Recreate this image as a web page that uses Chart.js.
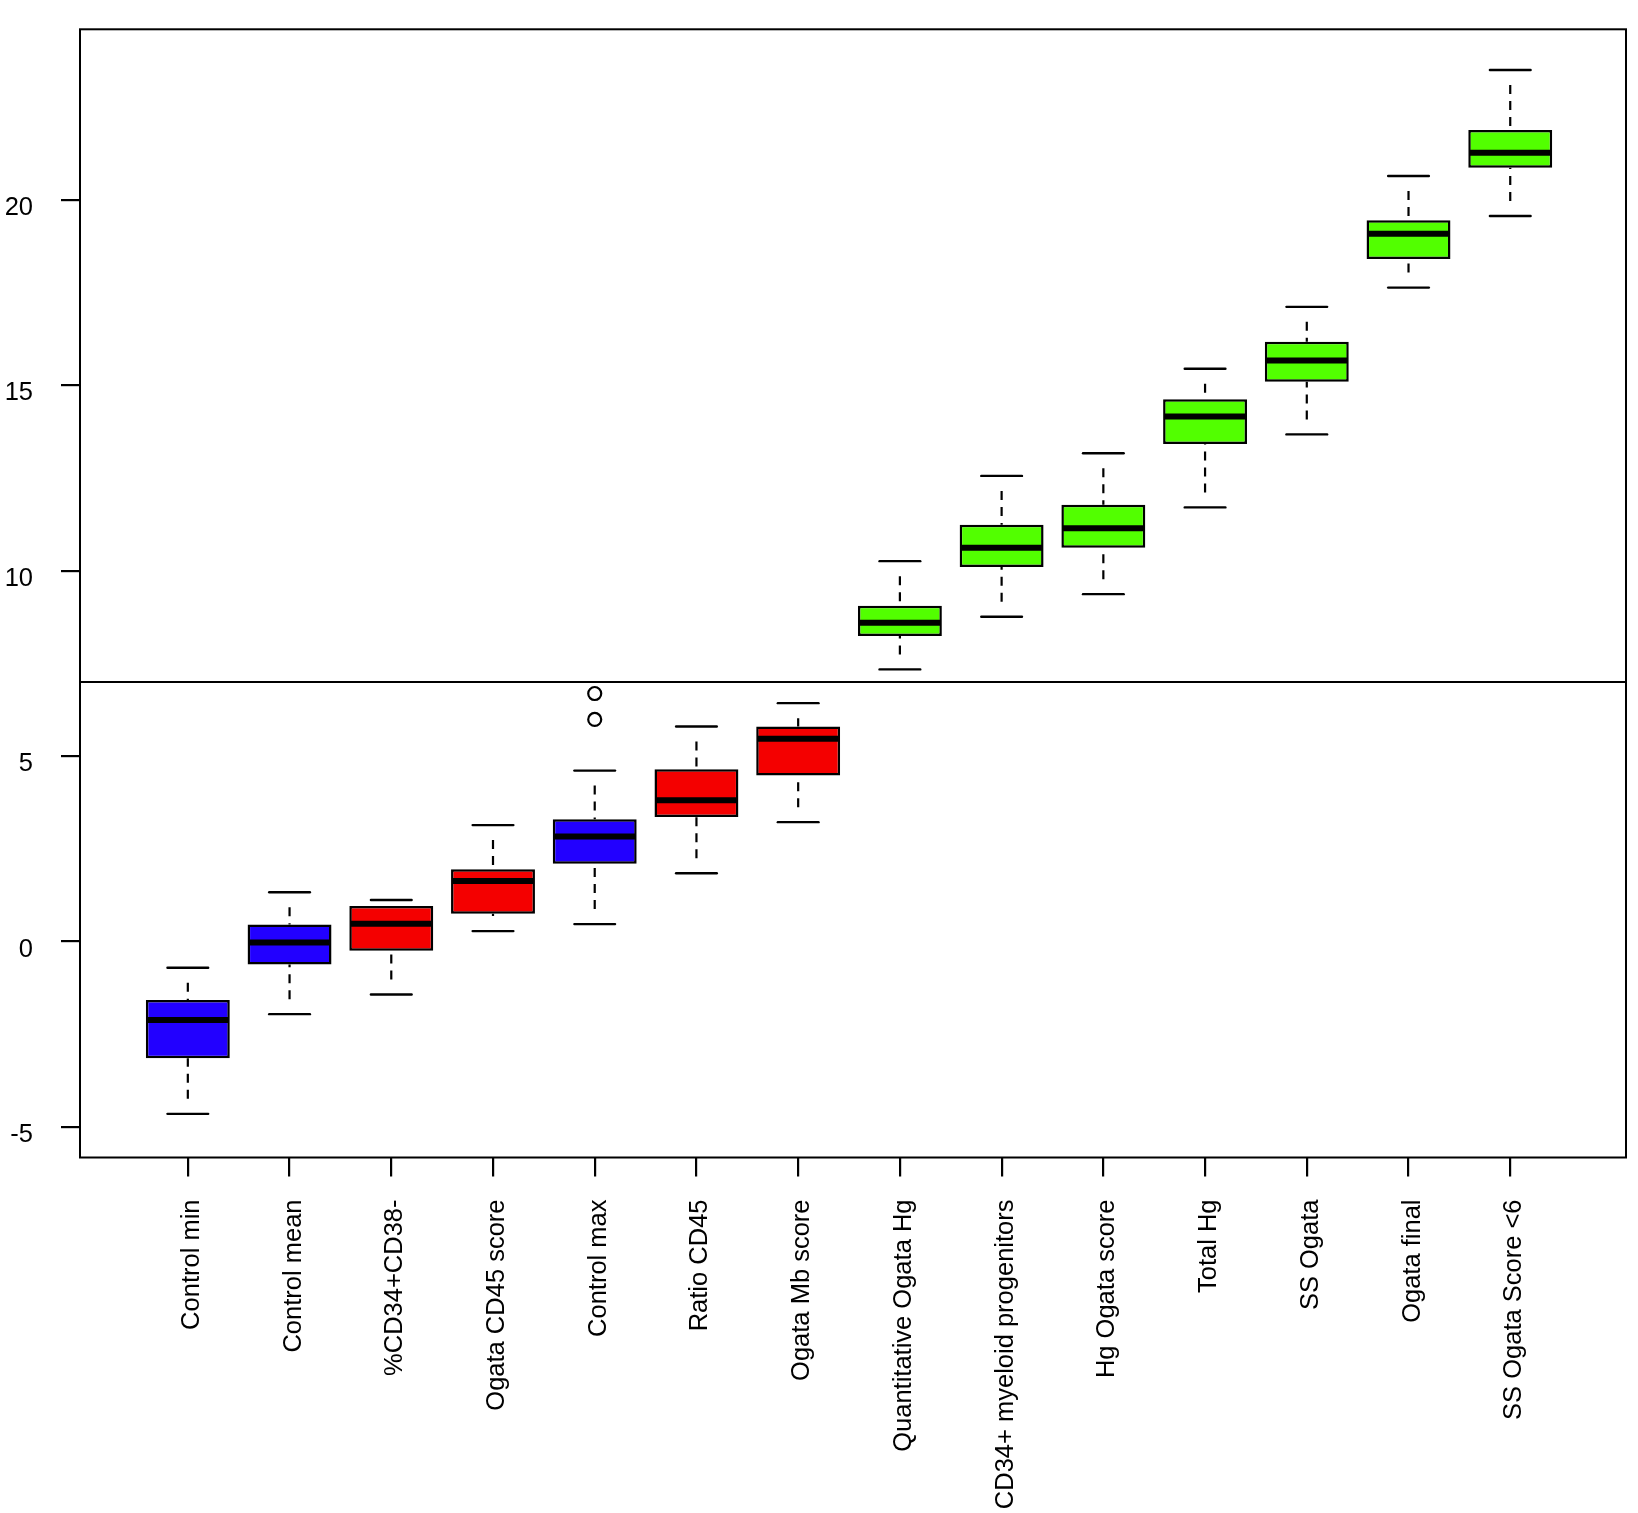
<!DOCTYPE html>
<html>
<head>
<meta charset="utf-8">
<script src="https://cdn.jsdelivr.net/npm/chart.js@4/dist/chart.umd.min.js"></script>
<style>
  html, body { margin: 0; padding: 0; background: #ffffff; }
  #wrap { width: 1638px; height: 1513px; }
</style>
</head>
<body>
<div id="wrap"><canvas id="c" width="1638" height="1513" style="width:1638px;height:1513px"></canvas></div>
<script>
// ---- data ----
const categories = ["Control min", "Control mean", "%CD34+CD38-", "Ogata CD45 score", "Control max",
  "Ratio CD45", "Ogata Mb score", "Quantitative Ogata Hg", "CD34+ myeloid progenitors",
  "Hg Ogata score", "Total Hg", "SS Ogata", "Ogata final", "SS Ogata Score <6"];
const groups = ["control", "control", "red", "red", "control", "red", "red",
  "green", "green", "green", "green", "green", "green", "green"];
const whiskerLow  = [-4.65, -1.96, -1.43, 0.28, 0.47, 1.84, 3.22, 7.34, 8.76, 9.37, 11.71, 13.68, 17.64, 19.57];
const quartile1   = [-3.15, -0.62, -0.25, 0.75, 2.10, 3.36, 4.48, 8.24, 10.10, 10.62, 13.42, 15.10, 18.41, 20.87];
const medians     = [-2.12, -0.03, 0.48, 1.63, 2.83, 3.81, 5.47, 8.60, 10.62, 11.15, 14.16, 15.67, 19.09, 21.28];
const quartile3   = [-1.58, 0.46, 0.96, 1.95, 3.30, 4.65, 5.80, 9.06, 11.24, 11.78, 14.63, 16.18, 19.46, 21.89];
const whiskerHigh = [-0.71, 1.33, 1.12, 3.14, 4.61, 5.80, 6.43, 10.26, 12.56, 13.17, 15.45, 17.12, 20.65, 23.51];
const outlierCategory = [5, 5];
const outlierValues   = [6.69, 5.99];
const thresholdValue = 7;
const yTickValues = [-5, 0, 5, 10, 15, 20];

const groupColors = { control: "#2200ff", red: "#f40000", green: "#52ff00" };

// ---- geometry in axis units (R boxplot defaults) ----
const boxHalf = 0.4;      // boxwex 0.8
const stapleHalf = 0.2;   // staplewex 0.5
const xMin = -0.06;
const xMax = 15.138;
const yMin = -5.827;
const yMax = 24.608;

const FONT = { family: "'Liberation Sans', Arial, Helvetica, sans-serif", size: 25.5 };

function zeroPadding(scale) {
  scale.paddingLeft = 0; scale.paddingRight = 0;
  scale.paddingTop = 0; scale.paddingBottom = 0;
}

const boxplotPlugin = {
  id: 'boxplotParts',
  afterDatasetsDraw(chart) {
    const ctx = chart.ctx;
    const xs = chart.scales.x, ys = chart.scales.y;
    ctx.save();
    ctx.strokeStyle = '#000';
    for (let i = 0; i < categories.length; i++) {
      const cx = xs.getPixelForValue(i + 1);
      const pairs = [[whiskerLow[i], quartile1[i]], [whiskerHigh[i], quartile3[i]]];
      for (const [w, q] of pairs) {
        const wy = ys.getPixelForValue(w), qy = ys.getPixelForValue(q);
        ctx.lineWidth = 2.2;
        ctx.lineCap = 'butt';
        ctx.setLineDash([0, 15, 9, 7, 9, 7, 9, 7, 9, 7, 9, 7, 9, 7, 9, 600]);
        ctx.beginPath();
        ctx.moveTo(cx, wy);
        ctx.lineTo(cx, qy);
        ctx.stroke();
        ctx.setLineDash([]);
        ctx.lineCap = 'round';
        ctx.lineWidth = 2.4;
        ctx.beginPath();
        ctx.moveTo(xs.getPixelForValue(i + 1 - stapleHalf), wy);
        ctx.lineTo(xs.getPixelForValue(i + 1 + stapleHalf), wy);
        ctx.stroke();
      }
      const my = ys.getPixelForValue(medians[i]);
      ctx.lineCap = 'butt';
      ctx.lineWidth = 6;
      ctx.beginPath();
      ctx.moveTo(xs.getPixelForValue(i + 1 - boxHalf), my);
      ctx.lineTo(xs.getPixelForValue(i + 1 + boxHalf), my);
      ctx.stroke();
    }
    const a = chart.chartArea;
    const ty = ys.getPixelForValue(thresholdValue);
    ctx.lineWidth = 2;
    ctx.beginPath();
    ctx.moveTo(a.left, ty);
    ctx.lineTo(a.right, ty);
    ctx.stroke();
    ctx.lineWidth = 2;
    ctx.strokeRect(a.left, a.top, a.right - a.left, a.bottom - a.top);
    ctx.restore();
  }
};

new Chart(document.getElementById('c'), {
  type: 'bar',
  data: {
    datasets: [
      {
        type: 'bar',
        data: categories.map((c, i) => ({ x: i + 1, y: [quartile1[i], quartile3[i]] })),
        backgroundColor: groups.map(g => groupColors[g]),
        borderColor: '#000',
        borderWidth: 2.5,
        borderSkipped: false,
        barPercentage: 0.825,
        categoryPercentage: 1.0,
        order: 2
      },
      {
        type: 'scatter',
        data: outlierValues.map((v, i) => ({ x: outlierCategory[i], y: v })),
        pointStyle: 'circle',
        pointRadius: 6.5,
        pointBorderWidth: 2.2,
        pointBorderColor: '#000',
        pointBackgroundColor: 'rgba(0,0,0,0)',
        order: 1
      }
    ]
  },
  options: {
    responsive: false,
    animation: false,
    events: [],
    layout: { padding: { top: 29.3, right: 12, left: 0, bottom: 0 } },
    plugins: { legend: { display: false }, tooltip: { enabled: false }, title: { display: false } },
    scales: {
      x: {
        type: 'linear',
        min: xMin,
        max: xMax,
        offset: false,
        afterBuildTicks: (scale) => { scale.ticks = categories.map((c, i) => ({ value: i + 1 })); },
        afterFit: (scale) => { scale.height = 1513 - 1157.5; zeroPadding(scale); },
        ticks: {
          autoSkip: false, minRotation: 90, maxRotation: 90, padding: 23, labelOffset: 4,
          color: '#000', font: FONT,
          callback: (v) => categories[Math.round(v) - 1]
        },
        grid: { display: true, offset: false, drawOnChartArea: false, drawTicks: true, tickLength: 19, tickWidth: 2.2, lineWidth: 2.2, tickColor: '#000', color: '#000' },
        border: { display: false }
      },
      y: {
        type: 'linear',
        min: yMin,
        max: yMax,
        afterBuildTicks: (scale) => { scale.ticks = yTickValues.map(v => ({ value: v })); },
        afterFit: (scale) => { scale.width = 80; zeroPadding(scale); },
        ticks: {
          includeBounds: false, padding: 28, labelOffset: 8, color: '#000', font: FONT,
          callback: (v) => String(v)
        },
        grid: { display: true, offset: false, drawOnChartArea: false, drawTicks: true, tickLength: 19, tickWidth: 2.2, lineWidth: 2.2, tickColor: '#000', color: '#000' },
        border: { display: false }
      }
    }
  },
  plugins: [boxplotPlugin]
});
</script>
</body>
</html>
